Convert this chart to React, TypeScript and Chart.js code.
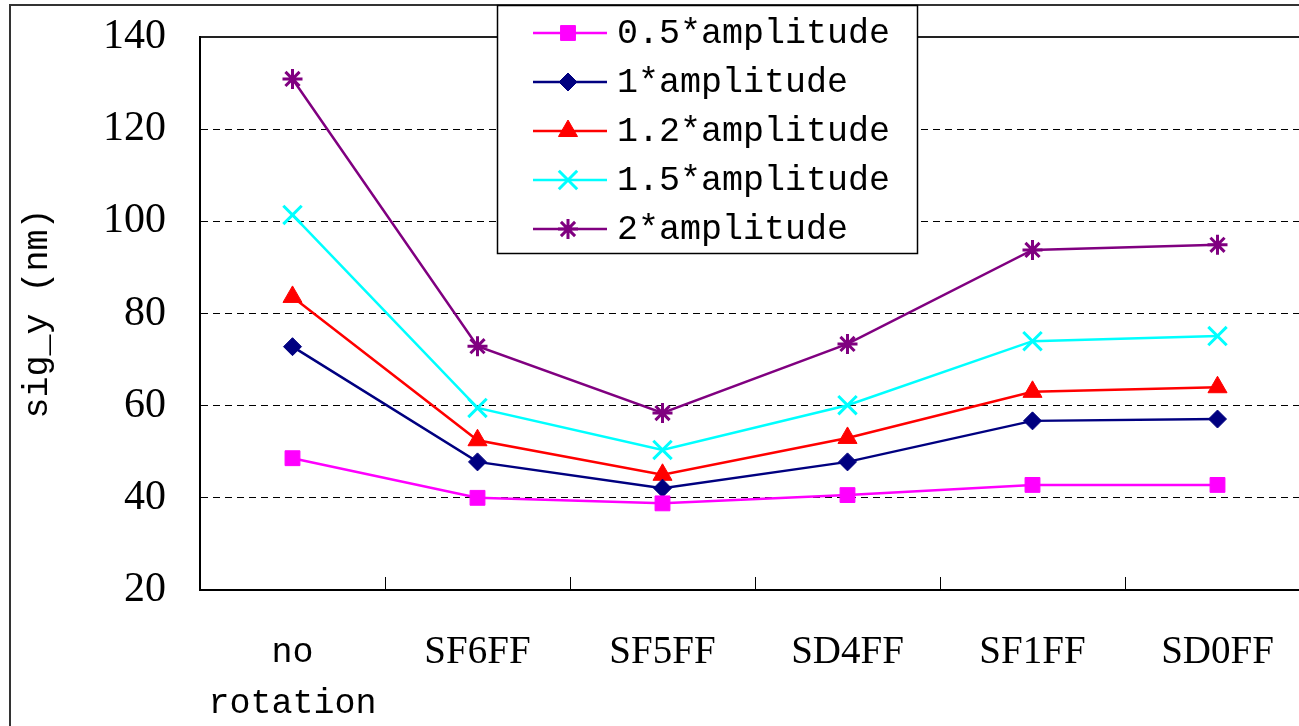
import React, { useEffect, useRef } from 'react';
import { Chart, registerables } from 'chart.js';
import { drawPoint } from 'chart.js/helpers';

Chart.register(...registerables);

// ---- data ----
const categories: (string | string[])[] = [['no', 'rotation'], 'SF6FF', 'SF5FF', 'SD4FF', 'SF1FF', 'SD0FF'];
const seriesNames = ['0.5*amplitude', '1*amplitude', '1.2*amplitude', '1.5*amplitude', '2*amplitude'];
const amp05 = [48.6, 40.0, 38.8, 40.6, 42.8, 42.8];
const amp1 = [72.8, 47.8, 42.1, 47.8, 56.7, 57.1];
const amp12 = [83.6, 52.5, 45.0, 53.0, 63.0, 64.0];
const amp15 = [101.4, 59.5, 50.4, 60.1, 74.0, 75.1];
const amp2 = [130.9, 72.9, 58.4, 73.4, 93.8, 94.9];
const yMin = 20;
const yMax = 140;
const yStep = 20;
const yTitle = 'sig_y (nm)';

// ---- styles ----
const seriesValues = [amp05, amp1, amp12, amp15, amp2];
const seriesColors = ['#FF00FF', '#000080', '#FF0000', '#00FFFF', '#800080'];
const seriesPointStyles = ['rect', 'rectRot', 'triangle', 'crossRot', 'star'];
const seriesPointRadius = [10.5, 9, 11, 13, 10];
const seriesPointBorder = [1, 1, 1, 3, 3];

const MONO = 'Liberation Mono';
const SERIF = 'Liberation Serif';

const framePlugin = {
  id: 'frame',
  beforeDraw(chart: any) {
    const ctx = chart.ctx;
    ctx.save();
    ctx.strokeStyle = '#333';
    ctx.lineWidth = 2;
    ctx.strokeRect(10, 5, chart.width + 50, chart.height + 50);
    ctx.restore();
  },
};

const xTicksPlugin = {
  id: 'xTickMarks',
  afterDatasetsDraw(chart: any) {
    const xs = chart.scales.x;
    const ctx = chart.ctx;
    const bottom = chart.chartArea.bottom;
    ctx.save();
    ctx.strokeStyle = '#000';
    ctx.lineWidth = 1;
    for (let i = 0; i < categories.length - 1; i++) {
      const x = Math.round((xs.getPixelForTick(i) + xs.getPixelForTick(i + 1)) / 2) + 0.5;
      ctx.beginPath();
      ctx.moveTo(x, bottom);
      ctx.lineTo(x, bottom - 13);
      ctx.stroke();
    }
    ctx.restore();
  },
};

const legendPlugin = {
  id: 'customLegend',
  afterDraw(chart: any) {
    const ctx = chart.ctx;
    const bx = 497, by = 5, bw = 420, bh = 248;
    ctx.save();
    ctx.fillStyle = '#fff';
    ctx.fillRect(bx, by, bw, bh);
    ctx.strokeStyle = '#000';
    ctx.lineWidth = 1.5;
    ctx.strokeRect(bx + 0.5, by + 0.5, bw, bh);
    const rowY = [33, 82, 131, 180, 229];
    chart.data.datasets.forEach((ds: any, i: number) => {
      const y = rowY[i];
      ctx.strokeStyle = ds.borderColor;
      ctx.lineWidth = ds.borderWidth;
      ctx.setLineDash([]);
      ctx.beginPath();
      ctx.moveTo(533, y);
      ctx.lineTo(607, y);
      ctx.stroke();
      ctx.fillStyle = ds.pointBackgroundColor;
      ctx.strokeStyle = ds.pointBorderColor;
      ctx.lineWidth = ds.pointBorderWidth;
      drawPoint(ctx, {
        pointStyle: ds.pointStyle,
        radius: ds.pointRadius,
        rotation: 0,
        borderWidth: ds.pointBorderWidth,
      } as any, 568, y);
      ctx.fillStyle = '#000';
      ctx.font = `35px "${MONO}"`;
      ctx.textBaseline = 'middle';
      ctx.textAlign = 'left';
      ctx.fillText(ds.label, 617, y + 1);
    });
    ctx.restore();
  },
};

export default function App() {
  const canvasRef = useRef<HTMLCanvasElement | null>(null);

  useEffect(() => {
    const canvas = canvasRef.current;
    if (!canvas) return;
    const chart = new Chart(canvas, {
      type: 'line',
      data: {
        labels: categories as any,
        datasets: seriesNames.map((name, i) => ({
          label: name,
          data: seriesValues[i],
          borderColor: seriesColors[i],
          backgroundColor: seriesColors[i],
          borderWidth: 2.5,
          pointStyle: seriesPointStyles[i] as any,
          pointRadius: seriesPointRadius[i],
          pointHoverRadius: seriesPointRadius[i],
          pointBackgroundColor: seriesColors[i],
          pointBorderColor: seriesColors[i],
          pointBorderWidth: seriesPointBorder[i],
          tension: 0,
          fill: false,
        })),
      },
      options: {
        responsive: false,
        maintainAspectRatio: false,
        devicePixelRatio: 1,
        animation: false,
        layout: { padding: { top: 37, right: 20, bottom: 0, left: 0 } },
        plugins: {
          legend: { display: false },
          tooltip: { enabled: false },
        },
        scales: {
          x: {
            type: 'category',
            offset: true,
            grid: { display: false, drawTicks: false },
            border: { display: true, color: '#000', width: 2 },
            ticks: {
              autoSkip: false,
              maxRotation: 0,
              minRotation: 0,
              padding: 37,
              color: '#000',
              font: (c: any) =>
                c.index === 0
                  ? { family: MONO, size: 35, lineHeight: '51px' }
                  : { family: SERIF, size: 39, lineHeight: '51px' },
            },
            afterFit: (s: any) => {
              s.height = 136;
              s.paddingLeft = 0;
              s.paddingRight = 0;
              s.paddingTop = 0;
              s.paddingBottom = 0;
            },
          },
          y: {
            min: yMin,
            max: yMax,
            ticks: {
              stepSize: yStep,
              padding: 34,
              color: '#000',
              font: { family: SERIF, size: 42 },
            },
            grid: {
              display: true,
              drawTicks: false,
              color: (c: any) => (c.tick && c.tick.value === yMax ? '#222' : '#000'),
              lineWidth: (c: any) => (c.tick && c.tick.value === yMax ? 2 : 1),
            },
            border: {
              display: true,
              color: '#000',
              width: 2,
              dash: (c: any) => (c.tick && c.tick.value !== yMax ? [7, 5] : []),
            } as any,
            title: {
              display: true,
              text: yTitle,
              color: '#000',
              font: { family: MONO, size: 35 },
              padding: { top: 17, bottom: 0 },
            },
            afterFit: (s: any) => {
              s.width = 200;
              s.paddingTop = 0;
              s.paddingBottom = 0;
              s.paddingLeft = 0;
              s.paddingRight = 0;
            },
          },
        },
      },
      plugins: [framePlugin, xTicksPlugin, legendPlugin],
    });
    return () => chart.destroy();
  }, []);

  return (
    <div
      style={{
        position: 'fixed',
        left: 0,
        top: 0,
        width: 1299,
        height: 726,
        overflow: 'hidden',
        background: '#fff',
      }}
    >
      <canvas ref={canvasRef} width={1330} height={726} style={{ display: 'block', width: 1330, height: 726 }} />
    </div>
  );
}
